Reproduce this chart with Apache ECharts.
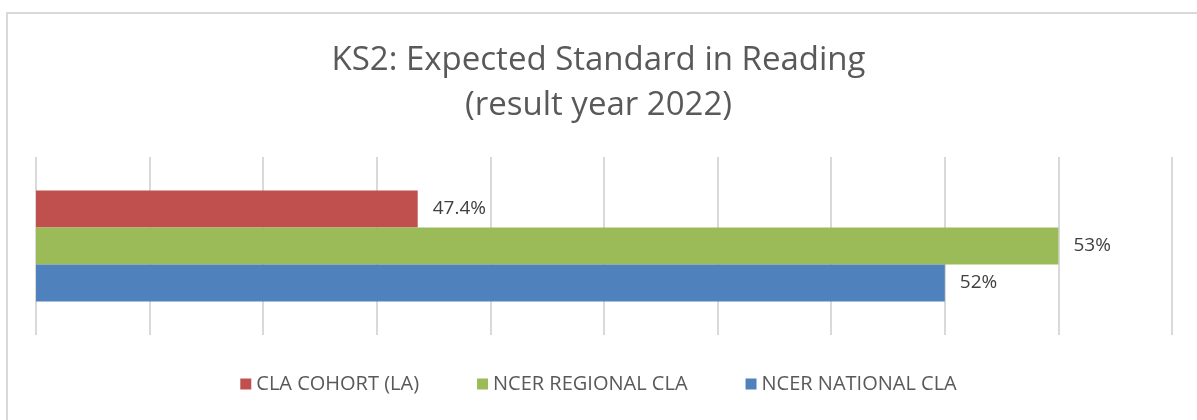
<!DOCTYPE html>
<html>
<head>
<meta charset="utf-8">
<script src="https://cdn.jsdelivr.net/npm/echarts@6/dist/echarts.min.js"></script>
<style>
  body { margin: 0; background: #fff; overflow: hidden; }
  #frame {
    position: absolute;
    left: 6px;
    top: 12px;
    width: 1400px;
    height: 600px;
    border: 2px solid #d9d9d9;
  }
  #main {
    position: absolute;
    left: 0;
    top: 0;
    width: 1197px;
    height: 420px;
  }
</style>
</head>
<body>
<div id="frame"></div>
<div id="main"></div>
<script>
const categories = ["Reading"];
const seriesNames = ["CLA COHORT (LA)", "NCER REGIONAL CLA", "NCER NATIONAL CLA"];
const seriesColors = ["#c0504d", "#9bbb59", "#4f81bd"];
const seriesValues = [[47.36], [53], [52]];
const labelTexts = ["47.4%", "53%", "52%"];

let myEchart = echarts.init(document.getElementById("main"));
let option = {
  animation: false,
  title: {
    text: "KS2: Expected Standard in Reading\n(result year 2022)",
    left: "center",
    top: 33,
    textStyle: {
      fontFamily: "Open Sans",
      fontSize: 33,
      fontWeight: "normal",
      color: "#595959",
      lineHeight: 45,
    },
  },
  legend: {
    bottom: 21,
    left: "center",
    itemWidth: 11,
    itemHeight: 11,
    itemGap: 58,
    icon: "rect",
    textStyle: {
      fontFamily: "Open Sans",
      fontSize: 20,
      color: "#595959",
    },
    data: seriesNames,
  },
  grid: {
    left: 36,
    right: 25,
    top: 157,
    bottom: 85,
    containLabel: false,
  },
  xAxis: {
    type: "value",
    min: 44,
    max: 54,
    interval: 1,
    axisLabel: { show: false },
    axisLine: { show: false },
    axisTick: { show: false },
    splitLine: { lineStyle: { color: "#d9d9d9", width: 2 } },
  },
  yAxis: {
    type: "category",
    inverse: true,
    data: categories,
    axisLabel: { show: false },
    axisLine: { show: false },
    axisTick: { show: false },
  },
  series: seriesNames.map((name, i) => ({
    name: name,
    type: "bar",
    data: seriesValues[i],
    barWidth: 37,
    barGap: "0%",
    itemStyle: { color: seriesColors[i] },
    label: {
      show: true,
      position: "right",
      distance: 15,
      formatter: () => labelTexts[i],
      fontFamily: "Open Sans",
      fontSize: 19,
      color: "#404040",
    },
  })),
};
myEchart.setOption(option, true);
</script>
</body>
</html>
